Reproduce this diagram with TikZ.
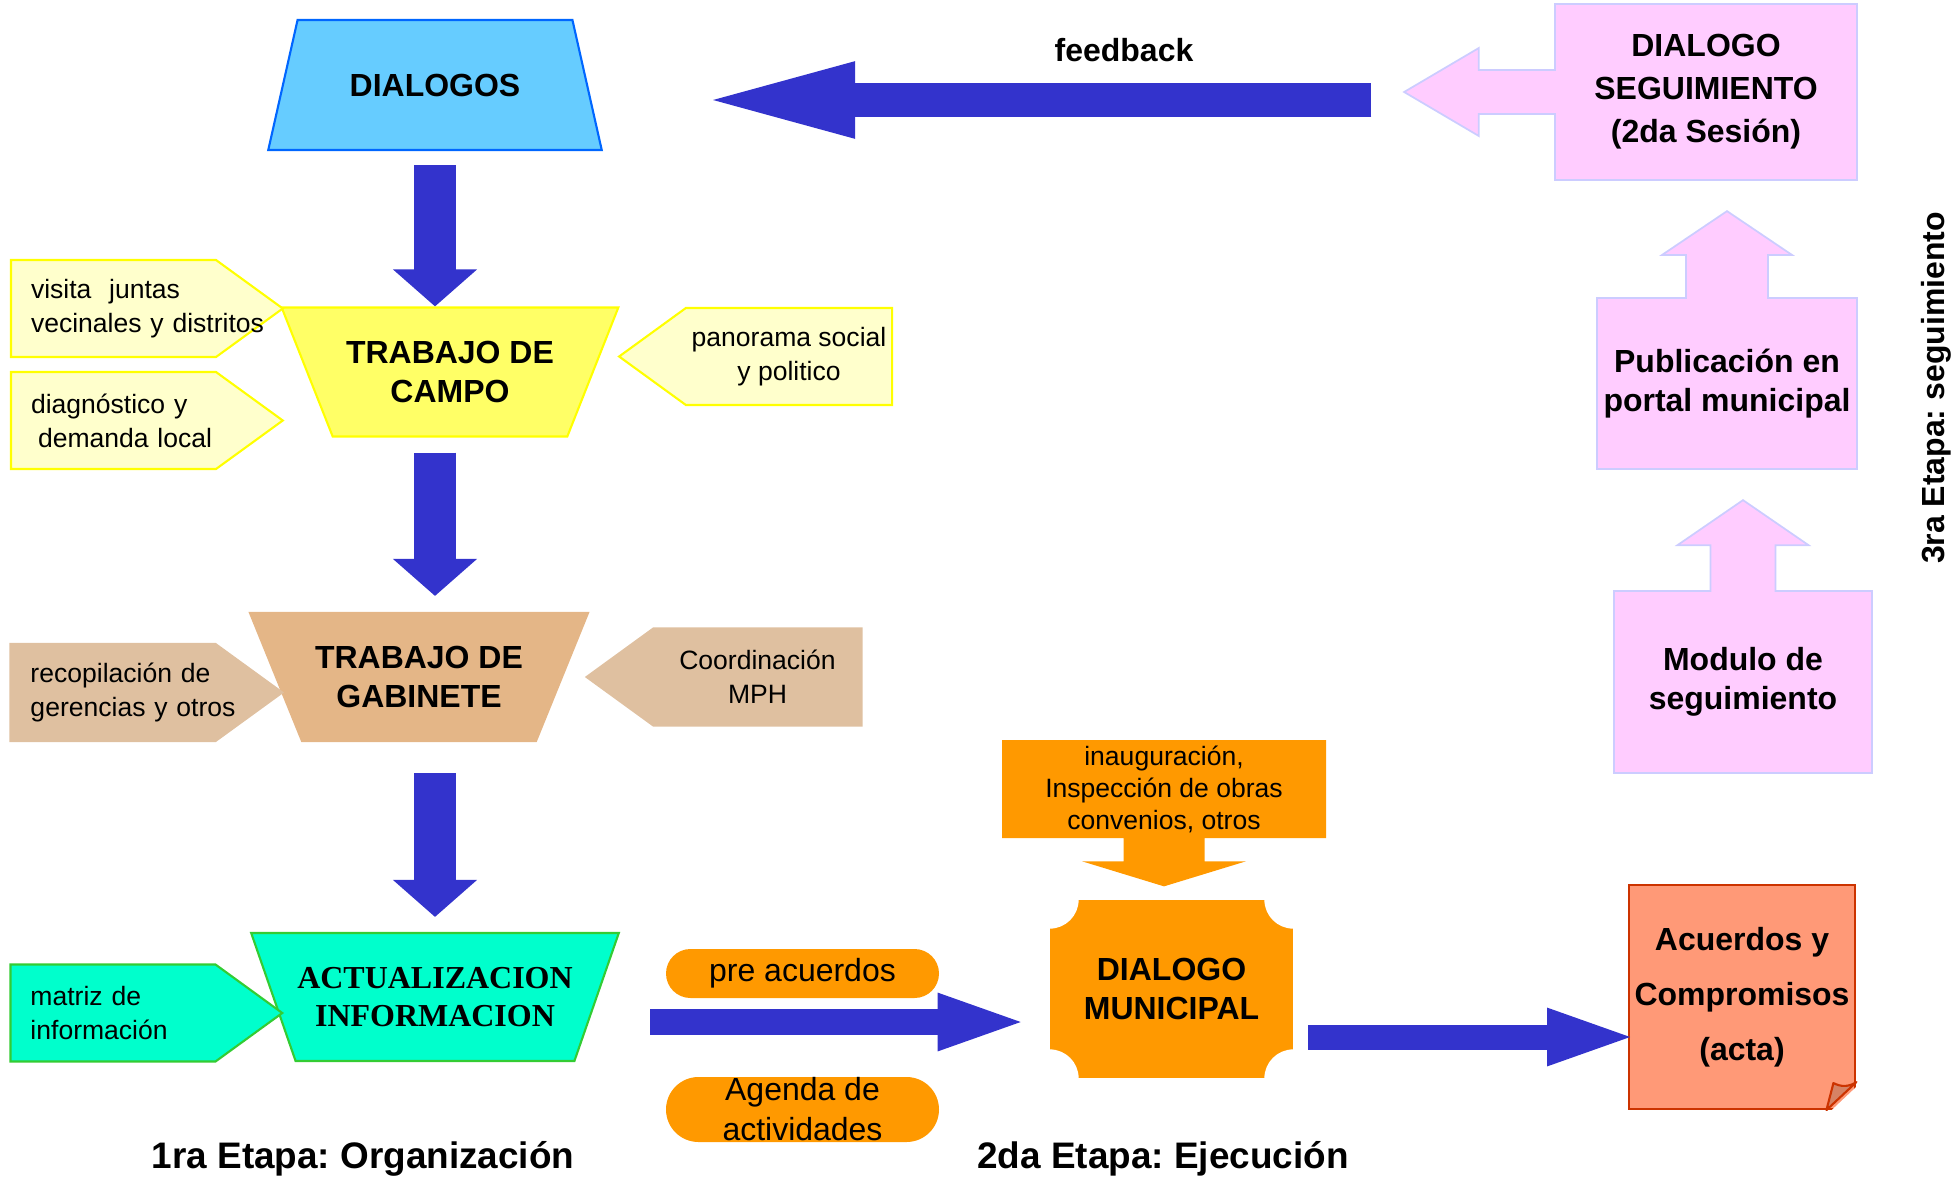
\documentclass[tikz,border=0pt]{standalone}
\usepackage{fontspec}
\setmainfont{Liberation Sans}
\newfontfamily\serifbf{Liberation Serif}
\usetikzlibrary{shapes.geometric,shapes.arrows,shapes.symbols,shapes.misc,arrows.meta}
\frenchspacing

\definecolor{arrblue}{RGB}{51,51,204}
\definecolor{skyfill}{RGB}{102,204,255}
\definecolor{skyline}{RGB}{0,102,255}
\definecolor{lemonfill}{RGB}{255,255,102}
\definecolor{creamfill}{RGB}{255,255,204}
\definecolor{yline}{RGB}{255,255,0}
\definecolor{tanfill}{RGB}{228,182,135}
\definecolor{tanside}{RGB}{223,192,160}
\definecolor{aquafill}{RGB}{0,255,204}
\definecolor{aqualine}{RGB}{51,204,51}
\definecolor{orangefill}{RGB}{255,153,0}
\definecolor{pinkfill}{RGB}{255,204,255}
\definecolor{pinkline}{RGB}{204,204,255}
\definecolor{salmonfill}{RGB}{255,153,119}
\definecolor{salmonline}{RGB}{204,51,0}
\definecolor{foldfill}{RGB}{214,130,100}

\newcommand\bigtxt{\fontsize{18.2}{22}\selectfont\bfseries}
\newcommand\smalltxt{\fontsize{15.1}{19.3}\selectfont}
\newcommand\pilltxt{\fontsize{18.2}{22.8}\selectfont}
\newcommand\stagetxt{\fontsize{21}{25}\selectfont\bfseries}

\begin{document}
\begin{tikzpicture}[
    trap/.style={trapezium, trapezium stretches=true, draw, line width=1.2pt,
                 inner xsep=-0.6cm, inner ysep=0pt, align=center, font=\bigtxt},
    side/.style={signal, draw, line width=1.2pt, signal pointer angle=72,
                 minimum height=1.94cm, font=\smalltxt},
    lside/.style={side, signal to=east, text width=3.3cm, inner xsep=0.4cm,
                  inner ysep=0pt, align=left},
    rside/.style={side, signal to=west, minimum width=5.46cm, inner sep=0pt,
                  align=center},
    pinkbox/.style={arrow box, draw=pinkline, fill=pinkfill, line width=1pt,
                    inner sep=0pt, align=center, font=\bigtxt},
    pill/.style={rounded rectangle, fill=orangefill, minimum width=5.46cm,
                 inner sep=0pt, align=center, font=\pilltxt},
    vdown/.style={arrblue, line width=0.84cm, -{Triangle[width=1.64cm,length=0.74cm]}},
    fbarr/.style={arrblue, line width=0.68cm, -{Triangle[width=1.3cm,length=3.32cm]}},
    harr/.style={arrblue, line width=0.52cm, -{Triangle[width=1cm,length=1.86cm]}}
  ]
    \useasboundingbox (0,0) rectangle (39.08,-23.58);

    \node[trap, trapezium left angle=62.5, trapezium right angle=62.5,
          minimum width=6.72cm, minimum height=2.6cm, fill=skyfill, draw=skyline]
          (dialogos) at (8.70,-1.70)  {DIALOGOS};
    \node[trap, shape border rotate=180, trapezium left angle=62.3,
          trapezium right angle=62.3, minimum width=6.74cm, minimum height=2.58cm,
          fill=lemonfill, draw=yline]
          (campo)    at (9.00,-7.44)  {TRABAJO DE\\CAMPO};
    \node[trap, shape border rotate=180, trapezium left angle=61.8,
          trapezium right angle=61.8, minimum width=6.76cm, minimum height=2.56cm,
          fill=tanfill, draw=tanfill]
          (gabinete) at (8.38,-13.54) {TRABAJO DE\\GABINETE};
    \node[trap, shape border rotate=180, trapezium left angle=60.3,
          trapezium right angle=60.3, minimum width=7.36cm, minimum height=2.56cm,
          fill=aquafill, draw=aqualine, font=\bigtxt\serifbf]
          (actual)   at (8.70,-19.94) {ACTUALIZACION\\INFORMACION};

    \node[lside, fill=creamfill, draw=yline] (visita)  at (2.27,-6.17)
          {\mbox{visita\ \ juntas}\\\mbox{vecinales y distritos}};
    \node[lside, fill=creamfill, draw=yline] (diag)    at (2.27,-8.41)
          {\mbox{diagnóstico y}\\\mbox{\hspace*{4pt}demanda local}};
    \node[rside, fill=creamfill, draw=yline] (panorama) at (15.78,-7.13)
          {panorama social\\y politico};
    \node[lside, fill=tanside, draw=tanside] (recop)   at (2.26,-13.85)
          {\mbox{recopilación de}\\\mbox{gerencias y otros}};
    \node[rside, fill=tanside, draw=tanside, minimum width=5.5cm] (coord) at (15.15,-13.54)
          {Coordinación\\MPH};
    \node[lside, fill=aquafill, draw=aqualine] (matriz) at (2.26,-20.26)
          {\mbox{matriz de}\\\mbox{información}};

    \node[pinkbox, minimum width=6.04cm, minimum height=3.52cm,
          arrow box arrows={west:3cm}, arrow box shaft width=0.88cm,
          arrow box head extend=0.44cm, arrow box tip angle=61,
          font=\fontsize{18.2}{24.5}\selectfont\bfseries]
          (seg) at (34.12,-1.84) {DIALOGO\\SEGUIMIENTO\\(2da Sesión)};
    \node[pinkbox, minimum width=5.2cm, minimum height=3.42cm,
          arrow box arrows={north:1.72cm}, arrow box shaft width=1.64cm,
          arrow box head extend=0.48cm, arrow box tip angle=112]
          (portal) at (34.54,-7.67) {Publicación en\\portal municipal};
    \node[pinkbox, minimum width=5.16cm, minimum height=3.64cm,
          arrow box arrows={north:1.8cm}, arrow box shaft width=1.3cm,
          arrow box head extend=0.66cm, arrow box tip angle=111]
          (modulo) at (34.86,-13.64) {Modulo de\\seguimiento};
    \node[arrow box, fill=orangefill, minimum width=6.48cm, minimum height=1.96cm,
          arrow box arrows={south:0.96cm}, arrow box shaft width=1.62cm,
          arrow box head extend=0.83cm, arrow box tip angle=146, inner sep=0pt,
          align=center, font=\fontsize{15.1}{18.2}\selectfont]
          (inaug) at (23.28,-15.78) {inauguración,\\Inspección de obras\\convenios, otros};

    \node[rectangle, fill=orangefill, minimum width=4.86cm, minimum height=3.56cm,
          align=center, font=\bigtxt] (mun) at (23.43,-19.78) {DIALOGO\\MUNICIPAL};
    \foreach \corner in {north west, north east, south west, south east}
      \fill[white] (mun.\corner) circle (0.58cm);

    \node[rectangle, fill=salmonfill, draw=salmonline, line width=1.2pt,
          minimum width=4.44cm, minimum height=4.48cm, align=center,
          font=\fontsize{18.2}{31.3}\selectfont\bfseries]
          (acta) at (34.84,-19.94) {Acuerdos y\\Compromisos\\(acta)};
    \fill[white] ([xshift=-0.6cm,yshift=-0.1cm]acta.south east)
          -- ([xshift=0.1cm,yshift=-0.1cm]acta.south east)
          -- ([xshift=0.1cm,yshift=0.56cm]acta.south east) -- cycle;
    \filldraw[fill=foldfill, draw=salmonline, line width=1.2pt, line join=round]
          ([xshift=-0.6cm]acta.south east)
          -- ([xshift=-0.46cm,yshift=0.54cm]acta.south east)
          to[bend right=30] ([yshift=0.56cm]acta.south east) -- cycle;

    \node[pill, minimum height=0.98cm] (pre)    at (16.05,-19.47) {pre acuerdos};
    \node[pill, minimum height=1.3cm]  (agenda) at (16.05,-22.19) {Agenda de\\actividades};

    \node[font=\bigtxt]   (feedback) at (22.48,-1.0)   {feedback};
    \node[font=\stagetxt] (stage1)   at (7.26,-23.18)  {1ra Etapa: Organización};
    \node[font=\stagetxt] (stage2)   at (23.26,-23.18) {2da Etapa: Ejecución};
    \node[font=\bigtxt, rotate=90] (stage3) at (38.72,-7.76) {3ra Etapa: seguimiento};

    \draw[vdown, shorten <=0.28cm] (dialogos.south) -- (dialogos.south |- campo.north);
    \draw[vdown, shorten <=0.30cm, shorten >=0.32cm]
          (campo.south -| dialogos) -- (gabinete.north -| dialogos);
    \draw[vdown, shorten <=0.62cm, shorten >=0.30cm]
          (gabinete.south -| dialogos) -- (actual.north -| dialogos);

    \coordinate (fb) at ([yshift=-0.16cm]seg.west);
    \draw[fbarr, shorten <=0.62cm, shorten >=5.08cm] (fb) -- (fb -| dialogos);

    \coordinate (ma) at ([yshift=-0.66cm]mun.west);
    \draw[harr, shorten <=4.3cm, shorten >=0.38cm] (ma -| actual) -- (ma);
    \coordinate (mb) at ([yshift=-0.96cm]mun.east);
    \draw[harr, line width=0.5cm, shorten <=0.3cm, shorten >=-0.25cm] (mb) -- (mb -| acta.west);
\end{tikzpicture}
\end{document}
